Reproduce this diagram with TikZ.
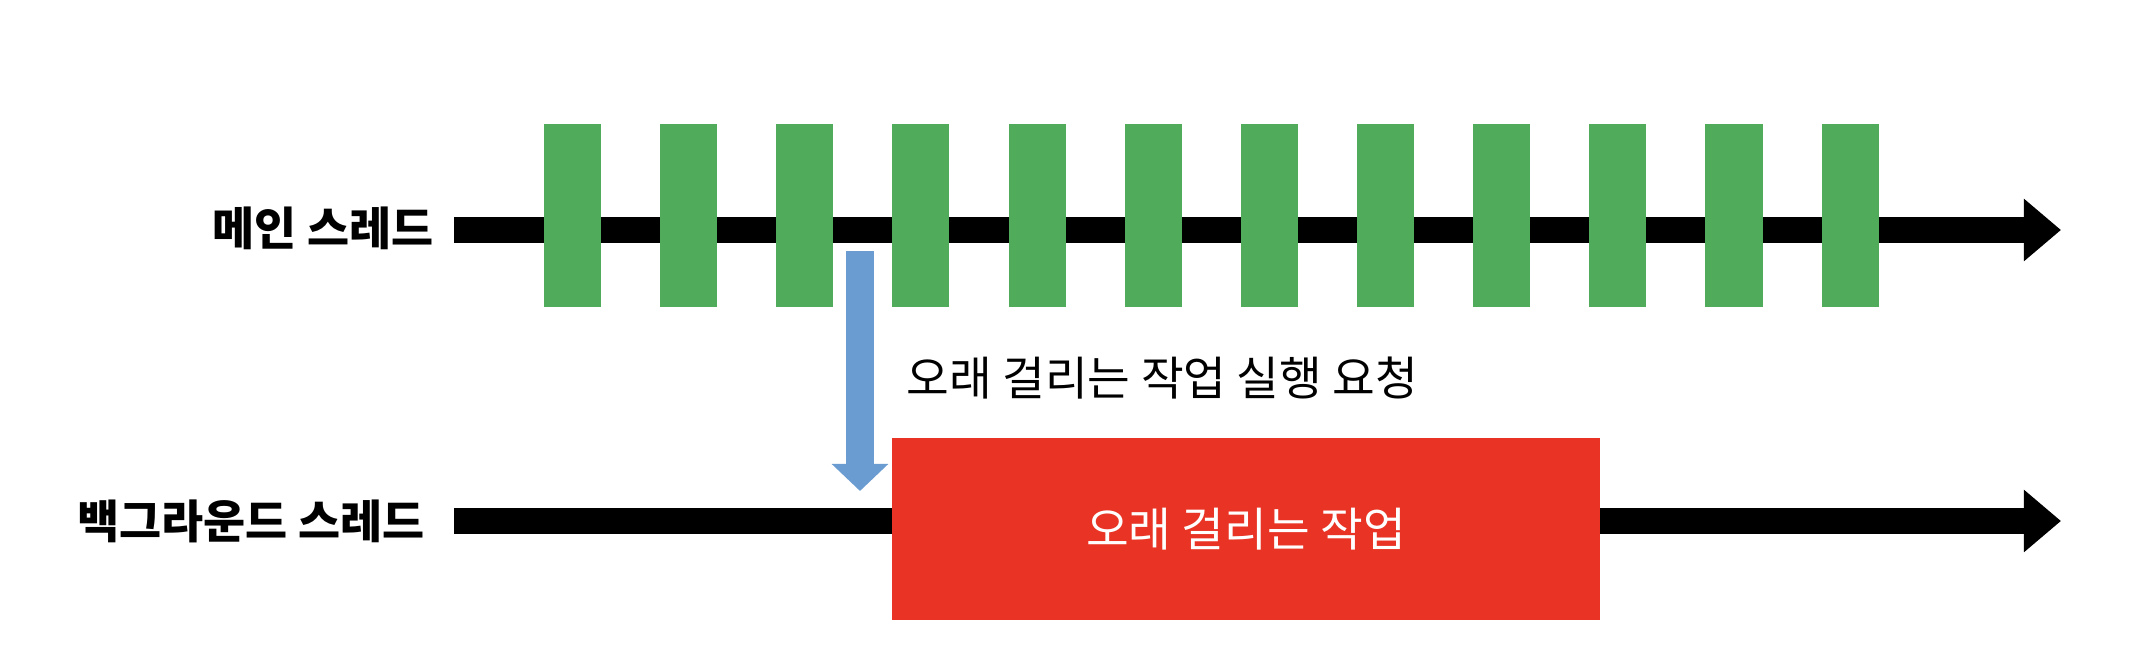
\documentclass[tikz,border=0pt]{standalone}
\usepackage{fontspec}
\setmainfont{Noto Sans CJK KR}
\usetikzlibrary{arrows.meta}
\definecolor{tickgreen}{RGB}{80,172,91}
\definecolor{taskred}{RGB}{233,51,36}
\definecolor{callblue}{RGB}{106,155,209}

\begin{document}
\begin{tikzpicture}[x=0.01cm,y=-0.01cm,
                    threadlabel/.style={font=\fontsize{13pt}{15pt}\selectfont\bfseries,anchor=east,inner sep=0pt},
                    thread/.style={line width=0.25cm,-{Triangle[length=0.37cm,width=0.6cm]}},
                    tickbox/.style={fill=tickgreen,minimum width=0.57cm,minimum height=1.83cm,inner sep=0pt}]
  \useasboundingbox (0,0) rectangle (2138,658);
  \node[threadlabel] (main) at (434,228) {메인 스레드};
  \node[threadlabel] (bg)   at (425,521) {백그라운드 스레드};
  \coordinate (mainend) at (2061,230);
  \coordinate (bgend)   at (2061,521);
  \draw[thread] (main.east) ++(20,2) -- (mainend);
  \draw[thread] (bg.east) ++(29,0) -- (bgend);
  \foreach \i in {1,...,12}
    \node[tickbox] (tick\i) at ({572.5+(\i-1)*116.15},215.5) {};
  \node[fill=taskred,minimum width=7.08cm,minimum height=1.82cm,inner sep=0pt,
        text=white,font=\fontsize{13.2pt}{15pt}\selectfont] (task) at (1246,529) {오래 걸리는 작업};
  \node[anchor=west,inner sep=0pt,font=\fontsize{13.2pt}{15pt}\selectfont] (request) at (906,378) {오래 걸리는 작업 실행 요청};
  \coordinate (callstart) at (860,251);
  \coordinate (callend)   at (860,491);
  \draw[callblue,line width=0.27cm,-{Triangle[length=0.27cm,width=0.55cm]}] (callstart) -- (callend);
\end{tikzpicture}
\end{document}
